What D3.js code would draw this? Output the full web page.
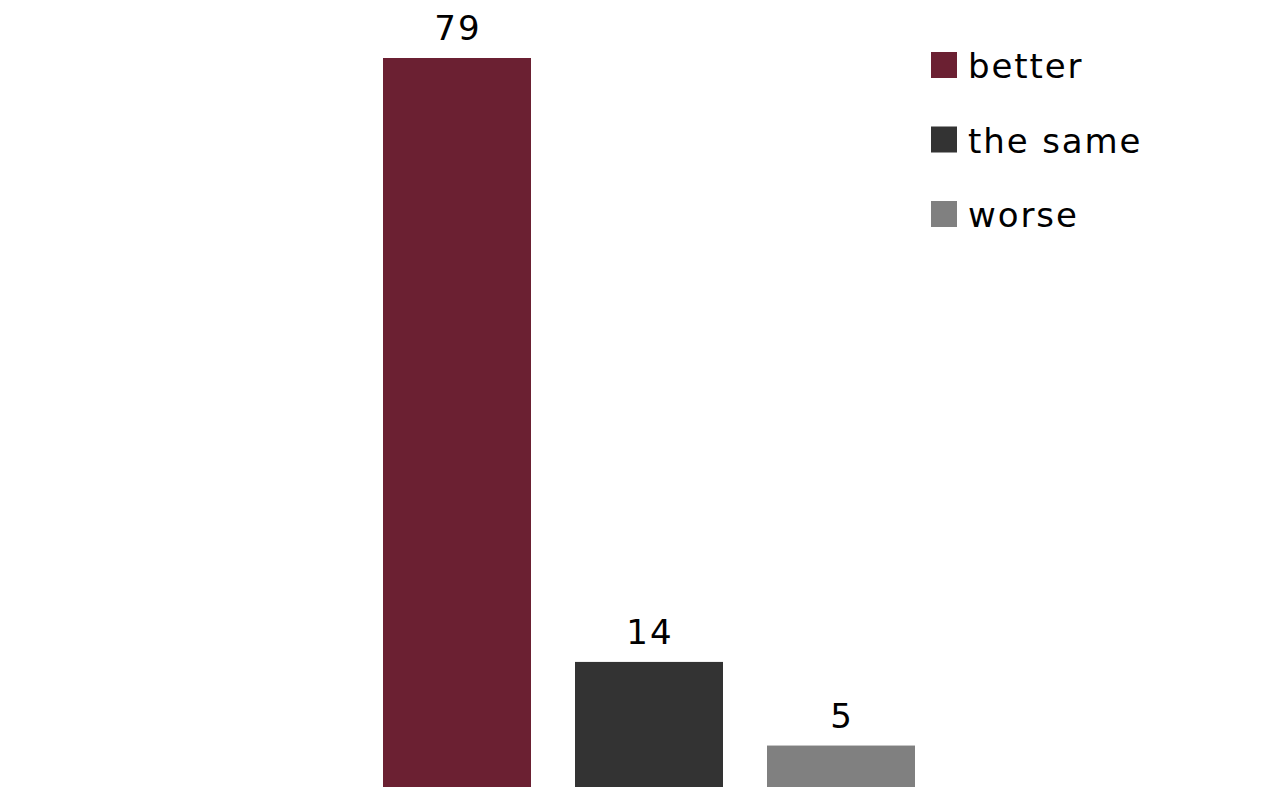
<!DOCTYPE html>
<html>
<head>
<meta charset="utf-8">
<script src="https://cdn.jsdelivr.net/npm/d3@7"></script>
<style>
  body { margin: 0; background: #fff; overflow: hidden; }
  text { font-family: "DejaVu Sans", Verdana, sans-serif; }
</style>
</head>
<body>
<div id="chart"></div>
<script>
// answers and their shares
var categories = ["better", "the same", "worse"];
var values = [79, 14, 5];
var colors = ["#6b2032", "#333333", "#808080"];

var width = 1266, height = 787;

var svg = d3.select("#chart").append("svg")
    .attr("width", width)
    .attr("height", height);

var x = d3.scaleBand()
    .domain(categories)
    .range([383, 915])
    .paddingInner(44 / 192)
    .paddingOuter(0);

// baseline sits a little below the window edge
var y = d3.scaleLinear()
    .domain([0, 79])
    .range([792, 58]);

svg.selectAll("rect.bar")
    .data(values)
    .enter().append("rect")
    .attr("class", "bar")
    .attr("x", function(d, i) { return x(categories[i]); })
    .attr("width", x.bandwidth())
    .attr("y", function(d) { return y(d); })
    .attr("height", function(d) { return y(0) - y(d); })
    .attr("fill", function(d, i) { return colors[i]; });

svg.selectAll("text.val")
    .data(values)
    .enter().append("text")
    .attr("class", "val")
    .attr("x", function(d, i) { return x(categories[i]) + x.bandwidth() / 2 + 1; })
    .attr("y", function(d) { return y(d) - 18; })
    .attr("text-anchor", "middle")
    .style("font-size", "34px")
    .style("letter-spacing", "2px")
    .attr("fill", "#000")
    .text(function(d) { return d; });

var legend = svg.selectAll("g.leg")
    .data(categories)
    .enter().append("g")
    .attr("class", "leg")
    .attr("transform", function(d, i) { return "translate(931," + (52 + i * 74.5) + ")"; });

legend.append("rect")
    .attr("width", 26)
    .attr("height", 26)
    .attr("fill", function(d, i) { return colors[i]; });

legend.append("text")
    .attr("x", 37)
    .attr("y", 26)
    .style("font-size", "34px")
    .style("letter-spacing", "1.9px")
    .attr("fill", "#000")
    .text(function(d) { return d; });
</script>
</body>
</html>
